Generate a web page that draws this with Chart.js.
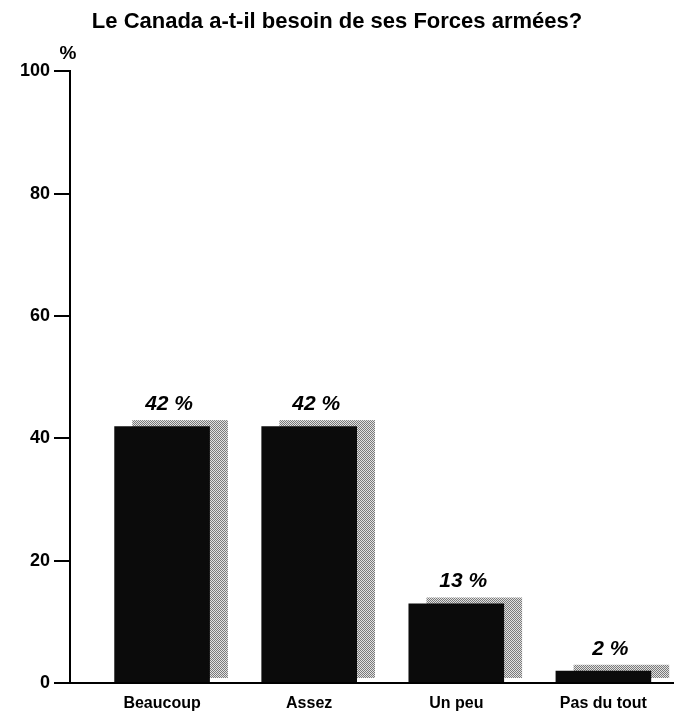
<!DOCTYPE html>
<html lang="fr">
<head>
    <meta charset="UTF-8">
    <title>Le Canada a-t-il besoin de ses Forces armées?</title>
    <script src="https://cdn.jsdelivr.net/npm/chart.js"></script>
    <style>
        body { margin: 0; background: #fff; }
        .wrap { width: 674px; height: 712px; }
    </style>
</head>
<body>
<div class="wrap"><canvas id="chart"></canvas></div>
<script>
    const categories = ['Beaucoup', 'Assez', 'Un peu', 'Pas du tout'];
    const values = [42, 42, 13, 2];
    const valueLabels = ['42 %', '42 %', '13 %', '2 %'];
    const yTicks = [0, 20, 40, 60, 80, 100];

    const FONT = '"Liberation Sans", Arial, sans-serif';

    // grey dithered pattern for the shadow behind each bar
    function greyPattern() {
        const c = document.createElement('canvas');
        c.width = 2; c.height = 2;
        const g = c.getContext('2d');
        g.fillStyle = '#e2e2e2';
        g.fillRect(0, 0, 2, 2);
        g.fillStyle = '#7a7a7a';
        g.fillRect(0, 0, 1, 1);
        g.fillRect(1, 1, 1, 1);
        return g.createPattern(c, 'repeat');
    }

    const shadowPlugin = {
        id: 'barShadow',
        beforeDatasetsDraw(chart) {
            const ctx = chart.ctx;
            const pat = greyPattern();
            chart.getDatasetMeta(0).data.forEach(bar => {
                const p = bar.getProps(['x', 'y', 'base', 'width'], true);
                ctx.save();
                ctx.fillStyle = pat;
                const left = p.x - p.width / 2 + 18;
                const top = p.y - 6;
                ctx.fillRect(left, top, p.width, p.base - 4 - top);
                ctx.restore();
            });
        },
        afterDatasetsDraw(chart) {
            const ctx = chart.ctx;
            ctx.save();
            ctx.fillStyle = '#000';
            ctx.textAlign = 'center';
            ctx.textBaseline = 'middle';
            ctx.font = 'italic bold 21px ' + FONT;
            chart.getDatasetMeta(0).data.forEach((bar, i) => {
                const p = bar.getProps(['x', 'y'], true);
                ctx.fillText(valueLabels[i], p.x + 7, p.y - 22);
            });
            // % unit above the y axis
            const ys = chart.scales.y;
            ctx.font = 'bold 19px ' + FONT;
            ctx.fillText('%', chart.chartArea.left - 2, ys.getPixelForValue(100) - 18);
            ctx.restore();
        }
    };

    new Chart(document.getElementById('chart'), {
        type: 'bar',
        data: {
            datasets: [{
                data: categories.map((c, i) => ({ x: i + 1, y: values[i] })),
                backgroundColor: '#0b0b0b',
                borderWidth: 0,
                barPercentage: 0.65,
                categoryPercentage: 1
            }]
        },
        options: {
            responsive: true,
            maintainAspectRatio: false,
            animation: false,
            layout: { padding: { left: 0, right: 0, top: 0, bottom: 0 } },
            plugins: {
                legend: { display: false },
                tooltip: { enabled: false },
                title: {
                    display: true,
                    text: 'Le Canada a-t-il besoin de ses Forces armées?',
                    color: '#000',
                    font: { family: FONT, size: 22, weight: 'bold' },
                    padding: { top: 9, bottom: 36 }
                }
            },
            scales: {
                x: {
                    type: 'linear',
                    offset: false,
                    min: 0.374,
                    max: 4.48,
                    afterFit: s => { s.height = 29; },
                    grid: { display: false, drawTicks: false },
                    border: { display: true, color: '#000', width: 2 },
                    ticks: {
                        stepSize: 1,
                        includeBounds: false,
                        autoSkip: false,
                        maxRotation: 0,
                        padding: 11,
                        color: '#000',
                        font: { family: FONT, size: 16, weight: 'bold' },
                        callback: v => Number.isInteger(v) && v >= 1 && v <= categories.length ? categories[v - 1] : ''
                    }
                },
                y: {
                    min: 0,
                    max: 100,
                    afterFit: s => { s.width = 70; },
                    afterBuildTicks: s => { s.ticks = yTicks.map(v => ({ value: v })); },
                    grid: { display: true, drawOnChartArea: false, drawTicks: true, tickLength: 16, color: '#000', lineWidth: 2 },
                    border: { display: true, color: '#000', width: 2 },
                    ticks: {
                        padding: 4,
                        color: '#000',
                        font: { family: FONT, size: 18, weight: 'bold' }
                    }
                }
            }
        },
        plugins: [shadowPlugin]
    });
</script>
</body>
</html>
